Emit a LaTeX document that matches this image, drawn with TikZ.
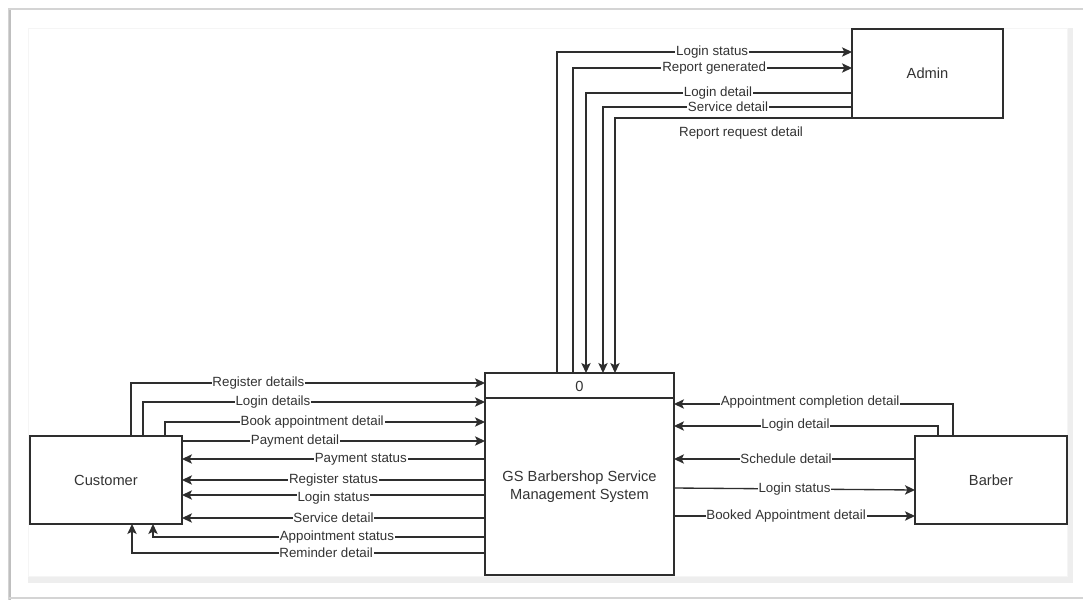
\documentclass[tikz,border=0pt]{standalone}
\usepackage{fontspec}
\setmainfont{Liberation Sans}
\usetikzlibrary{arrows.meta}
\definecolor{ln}{HTML}{2E2E2E}
\definecolor{tx}{HTML}{333333}
\definecolor{band}{HTML}{EEEEEE}
\definecolor{edge}{HTML}{D4D4D4}
\begin{document}
\begin{tikzpicture}[x=0.75pt,y=-0.75pt,
  box/.style={draw=ln,line width=1pt,inner sep=0pt,outer sep=0pt,text=tx,
    font=\fontsize{11}{14}\selectfont,align=center},
  flow/.style={draw=ln,line width=1pt,-{Stealth[length=7.5pt,width=7pt,inset=1.8pt]}},
  lbl/.style={fill=white,inner sep=0.6pt,text=tx,font=\fontsize{10}{12}\selectfont}
]
\useasboundingbox (0,0) rectangle (1083,600);
\fill[white] (0,0) rectangle (1083,600);
% screenshot frame
\draw[edge,line width=1.2pt] (9,600) -- (9,9) -- (1083,9);
\draw[black!25,line width=0.8pt] (10,600) -- (10,10);
\draw[edge,line width=1.2pt] (9,598) -- (1083,598);
\fill[band] (28,28) rectangle (1073,583);
\fill[white] (28,28) rectangle (1067,576);
\draw[black!4] (28,28) rectangle (1067,576);

% entities and process
\node[box,minimum width=113.25pt,minimum height=66.75pt] (admin) at (927.5,73.5) {Admin};
\node[box,minimum width=114pt,minimum height=66pt] (customer) at (106,480) {Customer};
\node[box,minimum width=114pt,minimum height=66pt] (barber) at (991,480) {Barber};
\node[box,minimum width=141.75pt,minimum height=151.5pt] (process) at (579.5,474) {};
\draw[ln,line width=1pt] (process.north west) ++(0,25) coordinate (dv) -- (dv -| process.east);
\node[text=tx,font=\fontsize{11}{14}\selectfont] (pid) at (579.5,386) {0};
\node[text=tx,font=\fontsize{11}{14}\selectfont,align=center] (pname) at (579.5,487)
  {GS Barbershop Service\\[-0.5pt]Management System};

% customer flows
\draw[flow] (131,0 |- customer.north) |- (process.west |- 0,383) node[lbl,pos=0.68]{Register details};
\draw[flow] (143,0 |- customer.north) |- (process.west |- 0,402) node[lbl,pos=0.69]{Login details};
\draw[flow] (165,0 |- customer.north) |- (process.west |- 0,422) node[lbl,pos=0.73]{Book appointment detail};
\draw[flow] (customer.east |- 0,441) -- (process.west |- 0,441) node[lbl,pos=0.373]{Payment detail};
\draw[flow] (process.west |- 0,459) -- (customer.east |- 0,459) node[lbl,pos=0.41]{Payment status};
\draw[flow] (process.west |- 0,480) -- (customer.east |- 0,480) node[lbl,pos=0.50]{Register status};
\draw[flow] (process.west |- 0,495) -- (customer.east |- 0,495) node[lbl,pos=0.50,yshift=-2pt]{Login status};
\draw[flow] (process.west |- 0,518) -- (customer.east |- 0,518) node[lbl,pos=0.50]{Service detail};
\draw[flow] (process.west |- 0,537) -| (153,0 |- customer.south) node[lbl,pos=0.223]{Appointment status};
\draw[flow] (process.west |- 0,553) -| (132,0 |- customer.south) node[lbl,pos=0.225]{Reminder detail};

% barber flows
\draw[flow] (953,0 |- barber.north) |- (process.east |- 0,404) node[lbl,pos=0.756,yshift=1.5pt]{Appointment completion detail};
\draw[flow] (938,0 |- barber.north) |- (process.east |- 0,426) node[lbl,pos=0.77,yshift=1pt]{Login detail};
\draw[flow] (barber.west |- 0,459) -- (process.east |- 0,459) node[lbl,pos=0.535]{Schedule detail};
\draw[flow] (process.east |- 0,488) -- (barber.west |- 0,490) node[lbl,pos=0.50]{Login status};
\draw[flow] (process.east |- 0,516) -- (barber.west |- 0,516) node[lbl,pos=0.465]{Booked Appointment detail};

% admin flows
\draw[flow] (557,0 |- process.north) |- (admin.west |- 0,52) node[lbl,pos=0.763]{Login status};
\draw[flow] (573,0 |- process.north) |- (admin.west |- 0,68) node[lbl,pos=0.753]{Report generated};
\draw[flow] (admin.west |- 0,93) -| (586,0 |- process.north) node[lbl,pos=0.252]{Login detail};
\draw[flow] (admin.west |- 0,107) -| (603,0 |- process.north) node[lbl,pos=0.249]{Service detail};
\draw[flow] (admin.south west) -| (615,0 |- process.north) node[lbl,pos=0.234,yshift=-11pt]{Report request detail};
\end{tikzpicture}
\end{document}
